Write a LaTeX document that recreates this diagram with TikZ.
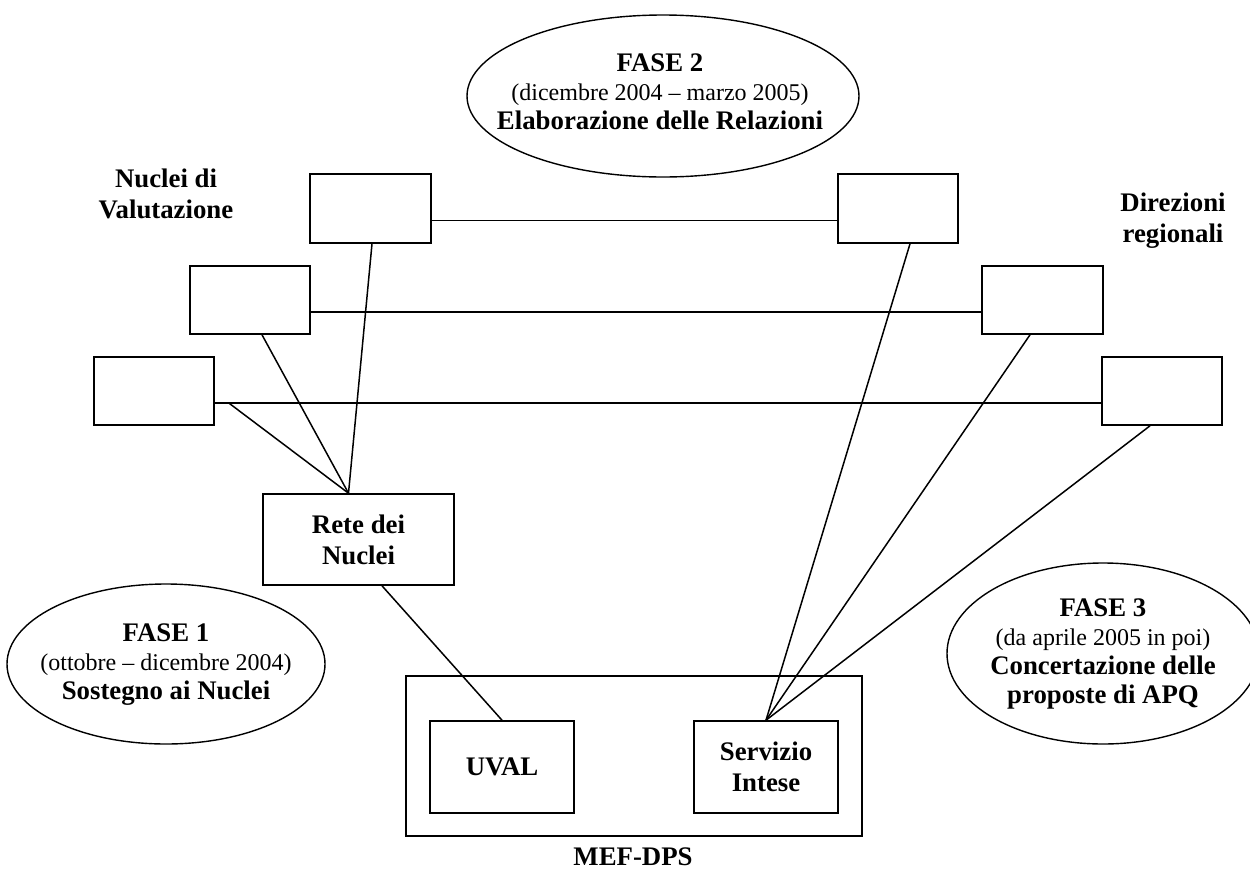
\documentclass[tikz,border=0pt]{standalone}
\usepackage{fontspec}
\setmainfont{Liberation Serif}
\usetikzlibrary{shapes.geometric}
\newcommand\phb[1]{{\fontsize{26.8}{29}\selectfont\bfseries #1}}
\begin{document}
\begin{tikzpicture}[x=1pt,y=-1pt,
  boxnode/.style={draw, line width=1.6pt, inner sep=0pt, align=center,
    font=\fontsize{26.8}{31}\selectfont\bfseries},
  phase/.style={draw, ellipse, line width=1.4pt, inner sep=0pt},
  phasetxt/.style={inner sep=0pt, align=center, font=\fontsize{24}{29}\selectfont},
  lbl/.style={inner sep=0pt, align=center, font=\fontsize{26.8}{31}\selectfont\bfseries},
  conn/.style={line width=1.5pt}]
\useasboundingbox (0,0) rectangle (1250,873);

% phases
\node[phase, minimum width=392pt, minimum height=162pt] (f2) at (663,96) {};
\node[phasetxt] (t2) at (660,92)
  {\phb{FASE 2}\\(dicembre 2004 -- marzo 2005)\\\phb{Elaborazione delle Relazioni}};
\node[phase, minimum width=318pt, minimum height=160pt] (f1) at (166,664) {};
\node[phasetxt] (t1) at (166,665)
  {\phb{FASE 1}\\(ottobre -- dicembre 2004)\\\phb{Sostegno ai Nuclei}};
\node[phase, minimum width=312pt, minimum height=181pt] (f3) at (1103,653.5) {};
\node[phasetxt] (t3) at (1103,654)
  {\phb{FASE 3}\\(da aprile 2005 in poi)\\\phb{Concertazione delle}\\\phb{proposte di APQ}};

% labels
\node[lbl] (lnv) at (166,194) {Nuclei di\\Valutazione};
\node[lbl] (ldr) at (1173,221) {Direzioni\\regionali};
\node[lbl] (lmef) at (633,857) {MEF-DPS};

% small boxes
\node[boxnode, minimum width=121pt, minimum height=69pt] (tl) at (370.5,208.5) {};
\node[boxnode, minimum width=120pt, minimum height=68pt] (l2) at (250,300) {};
\node[boxnode, minimum width=120pt, minimum height=68pt] (l3) at (154,391) {};
\node[boxnode, minimum width=120pt, minimum height=69pt] (tr) at (898,208.5) {};
\node[boxnode, minimum width=121pt, minimum height=68pt] (r2) at (1042.5,300) {};
\node[boxnode, minimum width=120pt, minimum height=68pt] (r3) at (1162,391) {};

% central boxes
\node[boxnode, minimum width=191pt, minimum height=91pt] (rete) at (358.5,539.5) {Rete dei\\Nuclei};
\node[boxnode, minimum width=456pt, minimum height=160pt] (mef) at (634,756) {};
\node[boxnode, minimum width=144pt, minimum height=92pt] (uval) at (502,767) {UVAL};
\node[boxnode, minimum width=144pt, minimum height=92pt] (serv) at (766,767) {Servizio\\Intese};

% horizontal connectors
\draw[conn] ([yshift=-12pt]tl.east) -- ([yshift=-12pt]tr.west);
\draw[conn] ([yshift=-12pt]l2.east) -- ([yshift=-12pt]r2.west);
\draw[conn] ([yshift=-12pt]l3.east) -- ([yshift=-12pt]r3.west);

% to Rete dei Nuclei
\coordinate (j3) at ([xshift=14pt,yshift=-12pt]l3.east);
\coordinate (rtop) at ([xshift=-10pt]rete.north);
\draw[conn] (j3) -- (rtop);
\draw[conn] ([xshift=12pt]l2.south) -- (rtop);
\draw[conn] ([xshift=1.5pt]tl.south) -- (rtop);

% to Servizio Intese
\draw[conn] ([xshift=12pt]tr.south) -- (serv.north);
\draw[conn] ([xshift=-12.5pt]r2.south) -- (serv.north);
\draw[conn] ([xshift=-12pt]r3.south) -- (serv.north);

% Rete to UVAL
\draw[conn] ([xshift=23.5pt]rete.south) -- (uval.north);
\end{tikzpicture}
\end{document}
